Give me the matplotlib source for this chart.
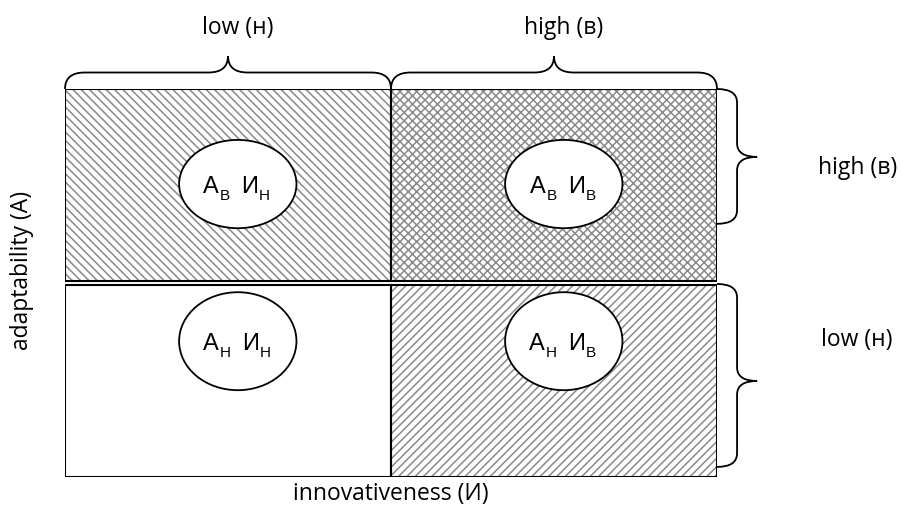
import matplotlib
matplotlib.use("Agg")
import matplotlib.pyplot as plt
from matplotlib.patches import Rectangle, Ellipse, PathPatch
from matplotlib.path import Path
from matplotlib.transforms import ScaledTranslation

# levels: index 0 = low, 1 = high
level_codes = ["н", "в"]
level_names = ["low", "high"]
level_caps = ["Н", "В"]

# quadrants as (adaptability level, innovativeness level)
quad_a = [1, 1, 0, 0]
quad_i = [0, 1, 0, 1]

x_title = "innovativeness (И)"
y_title = "adaptability (A)"

# hatch pattern per quadrant, same order as above
quad_hatch = ["\\\\\\\\", "xxxx", None, "////"]

plt.rcParams["hatch.linewidth"] = 1.1

W, H = 904, 506
fig = plt.figure(figsize=(W / 100, H / 100), dpi=100)
ax = fig.add_axes([65 / W, 28 / H, 652 / W, 388 / H])
ax.set_xlim(0, 2)
ax.set_ylim(0, 2)
ax.axis("off")

label_font = dict(family=["Open Sans", "DejaVu Sans"], fontsize=16.5, color="black")
cell_font = ["Liberation Sans", "DejaVu Sans"]

cell_h = 0.99
row_gap = 0.02
ell_dy = [0.70, 0.50]
ell_h = [0.505, 0.455]

renderer = fig.canvas.get_renderer()


def sub_label(x, y, pieces):
    # pieces: (text, fontsize, baseline shift in px, gap before in px)
    texts = []
    for s, fs, dy, gap in pieces:
        t = ax.text(x, y, s, fontsize=fs, family=cell_font, ha="left",
                    va="baseline", zorder=5)
        texts.append((t, dy, gap))
    widths = [t.get_window_extent(renderer).width for t, _, _ in texts]
    total = sum(widths) + sum(g for _, _, g in texts)
    cx = -total / 2
    for (t, dy, gap), w in zip(texts, widths):
        cx += gap
        t.set_transform(ax.transData + ScaledTranslation(cx / 100, (-8 - dy) / 100,
                                                         fig.dpi_scale_trans))
        cx += w


for a, i, hatch in zip(quad_a, quad_i, quad_hatch):
    x0 = i
    y0 = a * (cell_h + row_gap)
    if hatch:
        ax.add_patch(Rectangle((x0, y0), 1, cell_h, facecolor="white",
                               edgecolor="#8a8a8a", hatch=hatch, lw=0))
    ax.add_patch(Rectangle((x0, y0), 1, cell_h, fill=False,
                           edgecolor="black", lw=1.5, zorder=3))
    ex, ey = x0 + 0.53, y0 + ell_dy[a]
    ax.add_patch(Ellipse((ex, ey), 0.36, ell_h[a], facecolor="white",
                         edgecolor="black", lw=1.3, zorder=4))
    sub_label(ex - 0.003, ey, [("A", 17, 0, 0), (level_caps[a], 11, 7, 1),
                               ("И", 17, 0, 11), (level_caps[i], 11, 7, 1)])


def hbrace(x0, x1, y, h, r):
    xm = (x0 + x1) / 2
    m = y + h / 2
    verts = [(x0, y), (x0, m), (x0 + r, m), (xm - r, m), (xm, m), (xm, y + h),
             (xm, m), (xm + r, m), (x1 - r, m), (x1, m), (x1, y)]
    codes = [Path.MOVETO, Path.CURVE3, Path.CURVE3, Path.LINETO, Path.CURVE3,
             Path.CURVE3, Path.CURVE3, Path.CURVE3, Path.LINETO, Path.CURVE3,
             Path.CURVE3]
    return Path(verts, codes)


def vbrace(y0, y1, ym, x, w, r):
    m = x + w / 2
    verts = [(x, y0), (m, y0), (m, y0 - r), (m, ym + r), (m, ym), (x + w, ym),
             (m, ym), (m, ym - r), (m, y1 + r), (m, y1), (x, y1)]
    codes = [Path.MOVETO, Path.CURVE3, Path.CURVE3, Path.LINETO, Path.CURVE3,
             Path.CURVE3, Path.CURVE3, Path.CURVE3, Path.LINETO, Path.CURVE3,
             Path.CURVE3]
    return Path(verts, codes)


# top braces + innovativeness level labels
for k in range(2):
    ax.add_patch(PathPatch(hbrace(k, k + 1, 2.0, 0.17, 0.06), fill=False,
                           lw=1.3, edgecolor="black", clip_on=False))
    ax.text(k + 0.53, 2.32, f"{level_names[k]} ({level_codes[k]})",
            ha="center", va="center", **label_font)

# right braces + adaptability level labels
vb = {1: (2.0, 1.305, 1.65), 0: (0.995, 0.052, 0.495)}
lab_y = {1: 1.60, 0: 0.71}
for k in (1, 0):
    y0, y1, ym = vb[k]
    ax.add_patch(PathPatch(vbrace(y0, y1, ym, 2.0, 0.123, 0.07), fill=False,
                           lw=1.3, edgecolor="black", clip_on=False))
    ax.text(2.43, lab_y[k], f"{level_names[k]} ({level_codes[k]})",
            ha="center", va="center", **label_font)

ax.text(1.0, -0.085, x_title, ha="center", va="center", **label_font)
ax.text(-0.132, 1.07, y_title, ha="center", va="center", rotation=90, **label_font)

fig.savefig("out.png", dpi=100)
